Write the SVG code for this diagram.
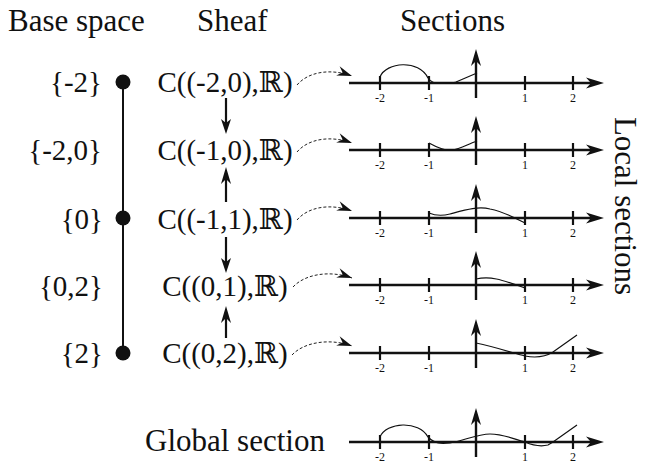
<svg xmlns="http://www.w3.org/2000/svg" xmlns:xlink="http://www.w3.org/1999/xlink" width="648" height="466" viewBox="0 0 648 466">
<style>
  .title { font-size: 31px; }
  .lbl { font-size: 29px; }
  .tick { font-size: 12px; text-anchor: middle; }
  .axis { stroke: #111; stroke-width: 2.4; fill: none; }
  .tk { stroke: #111; stroke-width: 2.2; }
  .sec { stroke: #111; stroke-width: 1.2; fill: none; }
  .dash { stroke: #222; stroke-width: 1; fill: none; stroke-dasharray: 3 2; }
  .varr { stroke: #111; stroke-width: 2.2; fill: none; }
</style>
<defs>
  <path id="ahR" d="M0,0 L-18,-5.5 L-13,0 L-18,5.5 Z" fill="#111"/>
  <path id="ahU" d="M0,0 L-5,17 L0,12 L5,17 Z" fill="#111"/>
  <path id="ahD" d="M0,0 L-5,-15 L0,-11 L5,-15 Z" fill="#111"/>
  <marker id="dah" markerUnits="userSpaceOnUse" viewBox="-16 -6 17 12" markerWidth="17" markerHeight="12" refX="0" refY="0" orient="auto">
    <path d="M0,0 L-15,-5 L-10,0 L-15,5 Z" fill="#111"/>
  </marker>
  <g id="axes">
    <line class="axis" x1="349" y1="0" x2="594" y2="0"/>
    <line class="tk" x1="380" y1="-7" x2="380" y2="7"/>
    <line class="tk" x1="429" y1="-7" x2="429" y2="7"/>
    <line class="tk" x1="525" y1="-7" x2="525" y2="7"/>
    <line class="tk" x1="573" y1="-7" x2="573" y2="7"/>
    <line class="axis" x1="476" y1="15" x2="476" y2="-24"/>
    <use xlink:href="#ahR" x="604" y="0"/>
    <use xlink:href="#ahU" x="476" y="-34"/>
    <g font-family="'Liberation Serif', 'Times New Roman', serif" fill="#111">
      <text class="tick" x="380" y="19">-2</text>
      <text class="tick" x="429" y="19">-1</text>
      <text class="tick" x="525" y="19">1</text>
      <text class="tick" x="573" y="19">2</text>
    </g>
  </g>
</defs>

<g id="titles" font-family="'Liberation Serif', 'Times New Roman', serif" fill="#111">
  <text class="title" x="8" y="31">Base space</text>
  <text class="title" x="197" y="31">Sheaf</text>
  <text class="title" x="400" y="31">Sections</text>
  <text class="title" transform="translate(615,206) rotate(90)" text-anchor="middle">Local sections</text>
  <text class="title" x="145" y="451">Global section</text>
</g>

<g id="base-space" font-family="'Liberation Serif', 'Times New Roman', serif" fill="#111">
  <line x1="123" y1="82" x2="123" y2="353" stroke="#111" stroke-width="2"/>
  <g id="base-m2"><circle cx="123" cy="82" r="7.5" fill="#111"/><text class="lbl" x="102" y="92" text-anchor="end">{-2}</text></g>
  <g id="base-m20"><text class="lbl" x="102" y="160" text-anchor="end">{-2,0}</text></g>
  <g id="base-0"><circle cx="123" cy="218" r="7.5" fill="#111"/><text class="lbl" x="103" y="229" text-anchor="end">{0}</text></g>
  <g id="base-02"><text class="lbl" x="103" y="296" text-anchor="end">{0,2}</text></g>
  <g id="base-2"><circle cx="123" cy="353" r="7.5" fill="#111"/><text class="lbl" x="103" y="363" text-anchor="end">{2}</text></g>
</g>

<g font-family="'Liberation Serif', 'DejaVu Serif', serif" fill="#111">
<g id="sheaf-m2m0"><text class="lbl" x="225" y="92" text-anchor="middle">C((-2,0),ℝ)</text></g>
<g id="sheaf-m1m0"><text class="lbl" x="225" y="160" text-anchor="middle">C((-1,0),ℝ)</text></g>
<g id="sheaf-m1p1"><text class="lbl" x="225" y="229" text-anchor="middle">C((-1,1),ℝ)</text></g>
<g id="sheaf-0p1"><text class="lbl" x="225" y="296" text-anchor="middle">C((0,1),ℝ)</text></g>
<g id="sheaf-0p2"><text class="lbl" x="225" y="363" text-anchor="middle">C((0,2),ℝ)</text></g>
</g>

<g id="section-1">
  <use xlink:href="#axes" y="83"/>
  <path class="sec" d="M380,77 C386,62 419,59 428,78 C432,84 440,84 446,83 C450,83 453,83 456,82 L477,73"/>
</g>
<g id="section-2">
  <use xlink:href="#axes" y="150"/>
  <path class="sec" d="M429,143 C438,148 445,151 452,150 C460,149 468,144 477,141"/>
</g>
<g id="section-3">
  <use xlink:href="#axes" y="218"/>
  <path class="sec" d="M429,213 C436,216 442,216 450,214 C465,210 478,206 490,209 C505,212 515,218 525,223"/>
</g>
<g id="section-4">
  <use xlink:href="#axes" y="285"/>
  <path class="sec" d="M476,279 C490,276 500,279 525,288"/>
</g>
<g id="section-5">
  <use xlink:href="#axes" y="353"/>
  <path class="sec" d="M476,343 C495,347 510,352 525,356 C535,358 545,357 553,352 L577,335"/>
</g>
<g id="section-global">
  <use xlink:href="#axes" y="442"/>
  <path class="sec" d="M380,437 C386,422 419,420 428,437 C435,444 441,444 450,443 C465,440 478,434 490,434 C505,434 515,440 525,442 C532,445 540,447 548,445 L553,442 L577,425"/>
</g>

<g id="connectors">
  <line class="varr" x1="226" y1="98" x2="226" y2="123"/>
  <use xlink:href="#ahD" x="226" y="134"/>
  <line class="varr" x1="226" y1="202" x2="226" y2="177"/>
  <use xlink:href="#ahU" x="226" y="167"/>
  <line class="varr" x1="226" y1="237" x2="226" y2="262"/>
  <use xlink:href="#ahD" x="226" y="273"/>
  <line class="varr" x1="226" y1="338" x2="226" y2="317"/>
  <use xlink:href="#ahU" x="226" y="306"/>
  <path class="dash" d="M297,85 C308,72 330,68 352,76" marker-end="url(#dah)"/>
  <path class="dash" d="M297,152 C308,139 330,135 352,143" marker-end="url(#dah)"/>
  <path class="dash" d="M297,220 C308,207 330,203 352,211" marker-end="url(#dah)"/>
  <path class="dash" d="M293,287 C305,274 330,270 352,278" marker-end="url(#dah)"/>
  <path class="dash" d="M292,355 C304,342 330,338 352,346" marker-end="url(#dah)"/>
</g>
</svg>
